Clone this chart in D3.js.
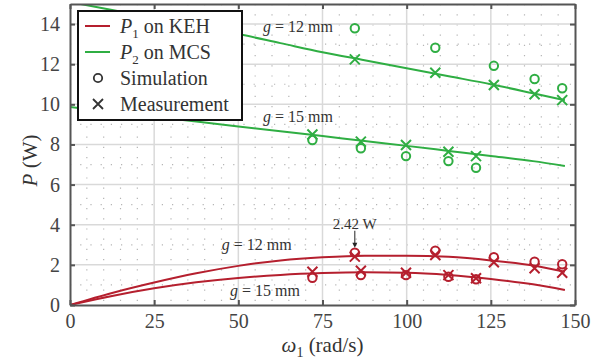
<!DOCTYPE html>
<html>
<head>
<meta charset="utf-8">
<script src="https://cdn.jsdelivr.net/npm/d3@7"></script>
<style>
  body { margin: 0; background: #fff; }
  text { font-family: "Liberation Serif", "Times New Roman", serif; fill: #333; }
</style>
</head>
<body>
<svg id="chart" width="603" height="362"></svg>
<script>
// axis ticks
const omegaTicks = [0, 25, 50, 75, 100, 125, 150];
const powerTicks = [0, 2, 4, 6, 8, 10, 12, 14];

// model curves
const curveOmega = [0, 12.5, 25, 37.5, 50, 62.5, 75, 87.5, 100, 112.5, 125, 137.5, 147];
const p1g12Model = [0, 0.6, 1.12, 1.58, 1.95, 2.22, 2.38, 2.46, 2.46, 2.4, 2.22, 1.97, 1.66];
const p1g15Model = [0, 0.45, 0.83, 1.13, 1.35, 1.5, 1.59, 1.63, 1.61, 1.5, 1.3, 1.03, 0.75];
const p2g12Model = [15.1, 14.7, 14.3, 13.9, 13.5, 13.05, 12.6, 12.2, 11.8, 11.4, 11.0, 10.55, 10.2];
const p2g15Model = [9.87, 9.62, 9.38, 9.14, 8.9, 8.66, 8.42, 8.17, 7.93, 7.68, 7.43, 7.17, 6.93];

// test speeds
const omegaG12 = [84.6, 108.5, 125.9, 138, 146.2];
const omegaG15 = [72, 86.4, 99.8, 112.4, 120.6];

// simulation / measurement points
const p1g12Sim = [2.61, 2.71, 2.38, 2.16, 2.03];
const p1g12Meas = [2.41, 2.49, 2.13, 1.83, 1.61];
const p1g15Sim = [1.36, 1.49, 1.49, 1.41, 1.28];
const p1g15Meas = [1.66, 1.71, 1.61, 1.49, 1.33];
const p2g12Sim = [13.79, 12.82, 11.92, 11.26, 10.80];
const p2g12Meas = [12.24, 11.57, 10.96, 10.50, 10.21];
const p2g15Sim = [8.22, 7.81, 7.42, 7.17, 6.84];
const p2g15Meas = [8.50, 8.14, 7.97, 7.64, 7.42];

const RED = '#b51f2e';
const GREEN = '#2fae43';
const AXIS = '#555';

const margin = { top: 4, right: 28, bottom: 57, left: 70 };
const W = 603, H = 362;
const width = W - margin.left - margin.right;
const height = H - margin.top - margin.bottom;

const svg = d3.select('#chart');
const g = svg.append('g').attr('transform', `translate(${margin.left},${margin.top})`);

const x = d3.scaleLinear().domain([0, 150]).range([0, width]);
const y = d3.scaleLinear().domain([0, 15]).range([height, 0]);

// minor grid (dotted)
const minorX = d3.range(5, 150, 5).filter(v => v % 25 !== 0);
const minorY = d3.range(1, 15, 1).filter(v => v % 2 !== 0);
g.append('g').selectAll('line').data(minorX).enter().append('line')
    .attr('x1', d => x(d)).attr('x2', d => x(d)).attr('y1', 0).attr('y2', height)
    .attr('stroke', '#b5b5b5').attr('stroke-width', 1.2).attr('stroke-dasharray', '1.2,9');
g.append('g').selectAll('line').data(minorY).enter().append('line')
    .attr('x1', 0).attr('x2', width).attr('y1', d => y(d)).attr('y2', d => y(d))
    .attr('stroke', '#b5b5b5').attr('stroke-width', 1.2).attr('stroke-dasharray', '1.2,9');

// major grid
g.append('g').selectAll('line').data(omegaTicks.slice(1, -1)).enter().append('line')
    .attr('x1', d => x(d)).attr('x2', d => x(d)).attr('y1', 0).attr('y2', height)
    .attr('stroke', '#d9d9d9').attr('stroke-width', 1.5);
g.append('g').selectAll('line').data(powerTicks.slice(1)).enter().append('line')
    .attr('x1', 0).attr('x2', width).attr('y1', d => y(d)).attr('y2', d => y(d))
    .attr('stroke', '#d9d9d9').attr('stroke-width', 1.5);

// clip for curves
svg.append('defs').append('clipPath').attr('id', 'plotclip')
  .append('rect').attr('width', width).attr('height', height);

const line = d3.line().x(d => x(d[0])).y(d => y(d[1])).curve(d3.curveMonotoneX);
const plot = g.append('g').attr('clip-path', 'url(#plotclip)');

function drawCurve(vals, color) {
  plot.append('path')
      .datum(curveOmega.map((w, i) => [w, vals[i]]))
      .attr('d', line)
      .attr('fill', 'none').attr('stroke', color).attr('stroke-width', 2);
}
drawCurve(p2g12Model, GREEN);
drawCurve(p2g15Model, GREEN);
drawCurve(p1g12Model, RED);
drawCurve(p1g15Model, RED);

function drawCircles(ws, vals, color) {
  plot.append('g').selectAll('circle')
      .data(ws.map((w, i) => [w, vals[i]])).enter().append('circle')
      .attr('cx', d => x(d[0])).attr('cy', d => y(d[1])).attr('r', 4.2)
      .attr('fill', 'none').attr('stroke', color).attr('stroke-width', 2);
}
const crossPath = 'M-5,-5L5,5M-5,5L5,-5';
function drawCrosses(ws, vals, color) {
  plot.append('g').selectAll('path')
      .data(ws.map((w, i) => [w, vals[i]])).enter().append('path')
      .attr('transform', d => `translate(${x(d[0])},${y(d[1])})`)
      .attr('d', crossPath)
      .attr('fill', 'none').attr('stroke', color).attr('stroke-width', 2);
}
drawCircles(omegaG12, p2g12Sim, GREEN);
drawCrosses(omegaG12, p2g12Meas, GREEN);
drawCircles(omegaG15, p2g15Sim, GREEN);
drawCrosses(omegaG15, p2g15Meas, GREEN);
drawCircles(omegaG12, p1g12Sim, RED);
drawCrosses(omegaG12, p1g12Meas, RED);
drawCircles(omegaG15, p1g15Sim, RED);
drawCrosses(omegaG15, p1g15Meas, RED);

// g labels
function gLabel(w, p, rest) {
  const t = g.append('text').attr('x', x(w)).attr('y', y(p)).attr('font-size', 16).attr('fill', '#222');
  t.append('tspan').attr('font-style', 'italic').text('g');
  t.append('tspan').text(rest);
}
gLabel(57.3, 13.62, ' = 12 mm');
gLabel(57.3, 9.14, ' = 15 mm');
gLabel(45.1, 2.72, ' = 12 mm');
gLabel(47.5, 0.45, ' = 15 mm');

// peak annotation
const peakW = omegaG12[0], peakP = p1g12Sim[0];
g.append('text').attr('x', x(peakW)).attr('y', y(3.8)).attr('text-anchor', 'middle')
    .attr('font-size', 15).attr('fill', '#222').text('2.42 W');
g.append('line').attr('x1', x(peakW)).attr('x2', x(peakW))
    .attr('y1', y(3.7)).attr('y2', y(peakP) - 7)
    .attr('stroke', '#222').attr('stroke-width', 1);
g.append('path')
    .attr('d', `M${x(peakW) - 2.5},${y(peakP) - 10}L${x(peakW) + 2.5},${y(peakP) - 10}L${x(peakW)},${y(peakP) - 5}Z`)
    .attr('fill', '#222');

// axes box with inward ticks
const xAxisB = d3.axisBottom(x).tickValues(omegaTicks).tickSizeInner(-5).tickSizeOuter(0).tickPadding(9);
const xAxisT = d3.axisTop(x).tickValues(omegaTicks).tickSizeInner(-5).tickSizeOuter(0).tickFormat('');
const yAxisL = d3.axisLeft(y).tickValues(powerTicks).tickSizeInner(-5).tickSizeOuter(0).tickPadding(10);
const yAxisR = d3.axisRight(y).tickValues(powerTicks).tickSizeInner(-5).tickSizeOuter(0).tickFormat('');

function styleAxis(sel) {
  sel.select('.domain').attr('stroke', AXIS).attr('stroke-width', 2);
  sel.selectAll('.tick line').attr('stroke', AXIS).attr('stroke-width', 2);
  sel.selectAll('.tick text').attr('font-size', 20).style('fill', '#444');
}
g.append('g').attr('transform', `translate(0,${height})`).call(xAxisB).call(styleAxis);
g.append('g').call(xAxisT).call(styleAxis);
g.append('g').call(yAxisL).call(styleAxis);
g.append('g').attr('transform', `translate(${width},0)`).call(yAxisR).call(styleAxis);

// axis titles
const xt = svg.append('text').attr('x', margin.left + width / 2).attr('y', 352)
    .attr('text-anchor', 'middle').attr('font-size', 21);
xt.append('tspan').attr('font-style', 'italic').text('ω');
xt.append('tspan').attr('font-size', 14).attr('dy', 5).text('1');
xt.append('tspan').attr('dy', -5).text(' (rad/s)');

const yt = svg.append('text').attr('transform', `translate(37,${margin.top + height / 2 + 6}) rotate(-90)`)
    .attr('text-anchor', 'middle').attr('font-size', 21);
yt.append('tspan').attr('font-style', 'italic').text('P');
yt.append('tspan').text(' (W)');

// legend
const lg = svg.append('g').attr('transform', 'translate(78,11)');
lg.append('rect').attr('width', 164).attr('height', 109)
    .attr('fill', '#fff').attr('stroke', '#111').attr('stroke-width', 2);

const legendItems = [
  { kind: 'line', color: RED, sym: 'P', sub: '1', label: ' on KEH' },
  { kind: 'line', color: GREEN, sym: 'P', sub: '2', label: ' on MCS' },
  { kind: 'circle', color: '#333', label: 'Simulation' },
  { kind: 'cross', color: '#333', label: 'Measurement' }
];
legendItems.forEach((it, i) => {
  const cy = 15 + i * 26;
  const row = lg.append('g').attr('transform', `translate(0,${cy})`);
  if (it.kind === 'line') {
    row.append('line').attr('x1', 7).attr('x2', 32).attr('y1', 0).attr('y2', 0)
       .attr('stroke', it.color).attr('stroke-width', 2);
  } else if (it.kind === 'circle') {
    row.append('circle').attr('cx', 20).attr('cy', 0).attr('r', 4.2)
       .attr('fill', 'none').attr('stroke', it.color).attr('stroke-width', 1.8);
  } else {
    row.append('path').attr('transform', 'translate(20,0)').attr('d', crossPath)
       .attr('fill', 'none').attr('stroke', it.color).attr('stroke-width', 1.8);
  }
  const t = row.append('text').attr('x', 42).attr('y', 7).attr('font-size', 20).attr('fill', '#222');
  if (it.sym) {
    t.append('tspan').attr('font-style', 'italic').text(it.sym);
    t.append('tspan').attr('font-size', 13).attr('dy', 5).text(it.sub);
    t.append('tspan').attr('dy', -5).text(it.label);
  } else {
    t.text(it.label);
  }
});
</script>
</body>
</html>
